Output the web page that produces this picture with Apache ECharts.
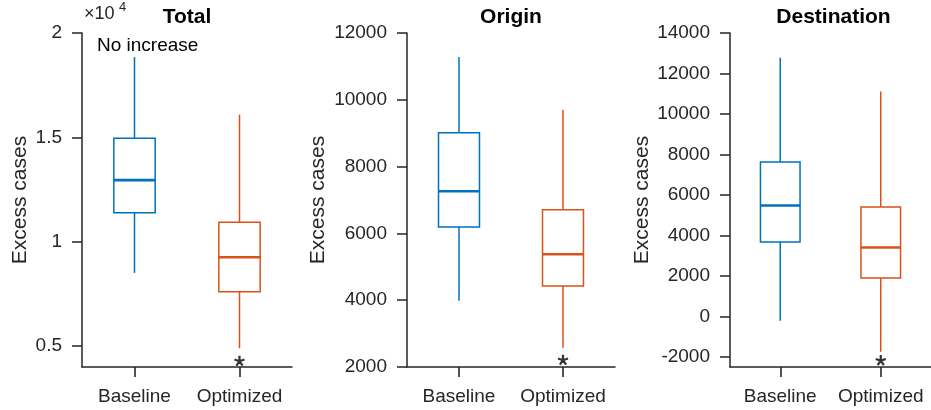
<!DOCTYPE html>
<html>
<head>
<meta charset="utf-8">
<script src="https://cdn.jsdelivr.net/npm/echarts@6/dist/echarts.min.js"></script>
<style>
html,body{margin:0;padding:0;background:#fff;}
#c{width:931px;height:410px;}
</style>
</head>
<body>
<div id="c"></div>
<script>
// ---- data ----
const categories = ['Baseline', 'Optimized'];
const panelTitles = ['Total', 'Origin', 'Destination'];
// [min whisker, Q1, median, Q3, max whisker] per category
const totalBaseline = [8510, 11390, 12950, 14960, 18850];
const totalOptimized = [4900, 7610, 9260, 10930, 16090];
const originBaseline = [3980, 6190, 7260, 9010, 11280];
const originOptimized = [2580, 4425, 5375, 6710, 9700];
const destBaseline = [-220, 3680, 5480, 7630, 12780];
const destOptimized = [-1750, 1900, 3400, 5410, 11110];
// outliers (on Optimized)
const totalOutliers = [4300];
const originOutliers = [2220];
const destOutliers = [-2160];
// y tick labels
const totalTicks = [5000, 10000, 15000, 20000];
const originTicks = [2000, 4000, 6000, 8000, 10000, 12000];
const destTicks = [-2000, 0, 2000, 4000, 6000, 8000, 10000, 12000, 14000];

const colors = ['#0072BD', '#D95319'];
const axisColor = '#262626';
const FONT = '"Liberation Sans", Arial, Helvetica, sans-serif';

const panels = [
  {box: [totalBaseline, totalOptimized], out: totalOutliers, ticks: totalTicks, min: 4000, max: 20000,
   fmt: v => String(v / 10000), grid: {left: 82, top: 33, width: 210, height: 334}, nameGap: 51},
  {box: [originBaseline, originOptimized], out: originOutliers, ticks: originTicks, min: 2000, max: 12000,
   fmt: v => String(v), grid: {left: 407, top: 33, width: 208, height: 334}, nameGap: 78},
  {box: [destBaseline, destOptimized], out: destOutliers, ticks: destTicks, min: -2500, max: 14000,
   fmt: v => String(v), grid: {left: 730, top: 33, width: 207, height: 334}, nameGap: 77}
];

const chart = echarts.init(document.getElementById('c'), null, {renderer: 'canvas'});

const grids = [], xAxes = [], yAxes = [], series = [], graphics = [];
const catIdx = categories.map((c, k) => k);

panels.forEach((p, i) => {
  grids.push(Object.assign({containLabel: false}, p.grid));
  xAxes.push({
    type: 'value', gridIndex: i, min: -0.5, max: categories.length - 0.5,
    axisLine: {show: true, onZero: false, lineStyle: {color: axisColor, width: 1.5}},
    axisTick: {show: true, length: 10, customValues: catIdx, lineStyle: {color: axisColor, width: 1.6}},
    axisLabel: {show: true, color: axisColor, fontSize: 19, fontFamily: FONT, margin: 20,
      customValues: catIdx, formatter: v => categories[Math.round(v)]},
    splitLine: {show: false}
  });
  yAxes.push({
    type: 'value', gridIndex: i, min: p.min, max: p.max,
    name: 'Excess cases', nameLocation: 'middle', nameGap: p.nameGap,
    nameTextStyle: {color: axisColor, fontSize: 21, fontFamily: FONT},
    axisLine: {show: true, onZero: false, lineStyle: {color: axisColor, width: 1.5}},
    axisTick: {show: true, length: 10, customValues: p.ticks, lineStyle: {color: axisColor, width: 1.5}},
    axisLabel: {color: axisColor, fontSize: 19, fontFamily: FONT, margin: 20, customValues: p.ticks, formatter: p.fmt},
    splitLine: {show: false}
  });
  const boxData = p.box.map((b, k) => [k].concat(b));
  series.push({
    type: 'custom', xAxisIndex: i, yAxisIndex: i, data: boxData,
    encode: {x: 0, y: [1, 2, 3, 4, 5]},
    renderItem: function (params, api) {
      const k = api.value(0);
      const c = colors[k];
      const band = api.size([1, 0])[0];
      const hw = band * 0.197;
      const pMin = api.coord([k, api.value(1)]);
      const pQ1 = api.coord([k, api.value(2)]);
      const pMed = api.coord([k, api.value(3)]);
      const pQ3 = api.coord([k, api.value(4)]);
      const pMax = api.coord([k, api.value(5)]);
      const x = pMed[0];
      return {
        type: 'group',
        children: [
          {type: 'line', shape: {x1: x, y1: pQ3[1], x2: x, y2: pMax[1]}, style: {stroke: c, lineWidth: 1.5}},
          {type: 'line', shape: {x1: x, y1: pQ1[1], x2: x, y2: pMin[1]}, style: {stroke: c, lineWidth: 1.5}},
          {type: 'rect', shape: {x: x - hw, y: pQ3[1], width: 2 * hw, height: pQ1[1] - pQ3[1]},
           style: {fill: 'none', stroke: c, lineWidth: 1.5}},
          {type: 'line', shape: {x1: x - hw, y1: pMed[1], x2: x + hw, y2: pMed[1]}, style: {stroke: c, lineWidth: 2.6}}
        ]
      };
    }
  });
  series.push({
    type: 'scatter', xAxisIndex: i, yAxisIndex: i,
    data: p.out.map(v => [1, v]),
    symbol: 'path://M0,0L0,-1M0,0L0.95,-0.31M0,0L0.59,0.81M0,0L-0.59,0.81M0,0L-0.95,-0.31',
    symbolSize: 10,
    itemStyle: {color: 'none', borderColor: '#000', borderWidth: 2.2},
    silent: true
  });
  graphics.push({
    type: 'text',
    x: p.grid.left + p.grid.width / 2, y: 17,
    style: {text: panelTitles[i], fill: '#000', font: 'bold 21px ' + FONT, textAlign: 'center', textVerticalAlign: 'middle'}
  });
});

graphics.push({type: 'text', x: 84, y: 14,
  style: {text: '\u00d710', fill: axisColor, font: '18px ' + FONT, textAlign: 'left', textVerticalAlign: 'middle'}});
graphics.push({type: 'text', x: 119, y: 7,
  style: {text: '4', fill: axisColor, font: '13px ' + FONT, textAlign: 'left', textVerticalAlign: 'middle'}});
graphics.push({type: 'text', x: 97, y: 46,
  style: {text: 'No increase', fill: '#000', font: '19px ' + FONT, textAlign: 'left', textVerticalAlign: 'middle'}});

chart.setOption({
  animation: false,
  backgroundColor: '#fff',
  grid: grids, xAxis: xAxes, yAxis: yAxes, series: series,
  graphic: graphics
});
</script>
</body>
</html>
